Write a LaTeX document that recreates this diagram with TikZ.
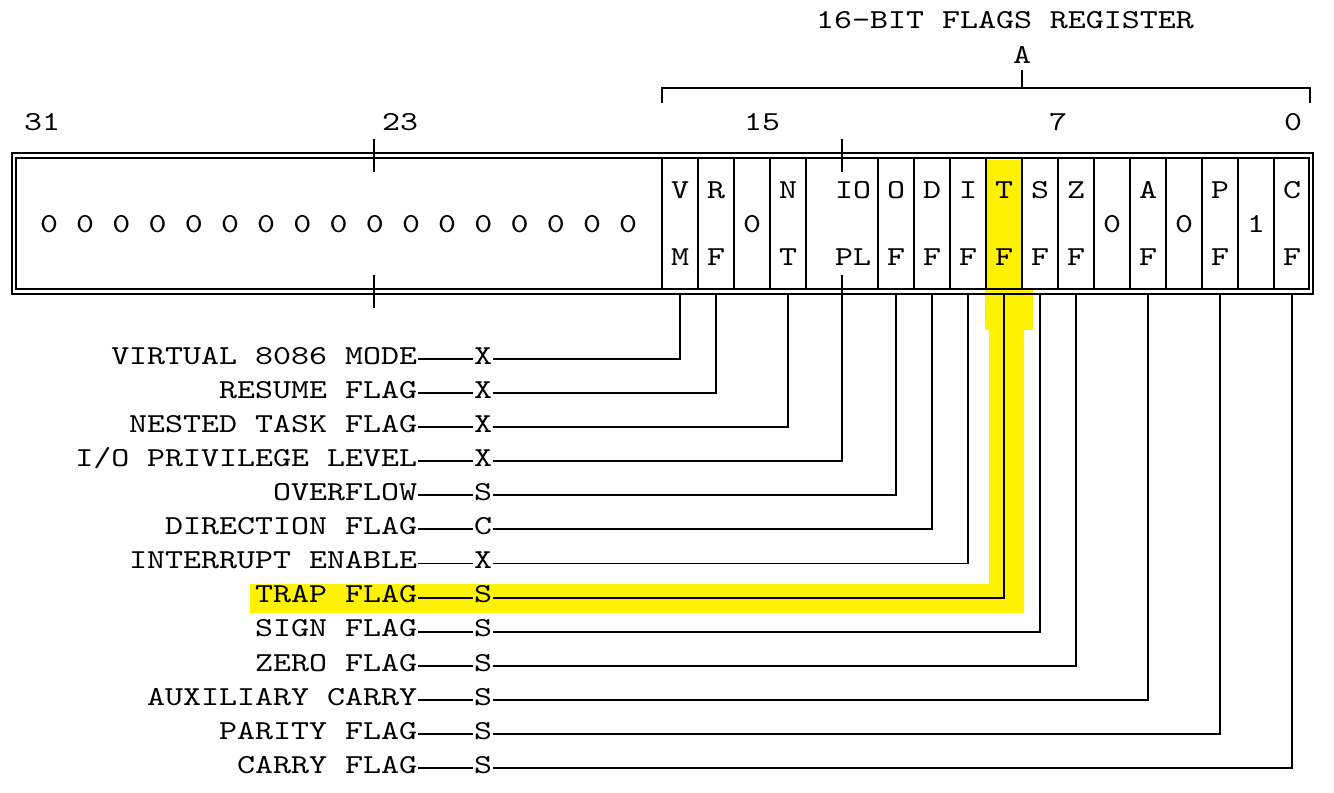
\documentclass[tikz,border=0pt]{standalone}
\usepackage{fontspec}
\newfontfamily\regfont{lmmono10-regular}[Extension=.otf,FakeStretch=1.25]
\begin{document}
\begin{tikzpicture}[x=0.02cm,y=-0.02cm,line width=1.1pt,font={\regfont\fontsize{15.6}{18}\selectfont},
	bit/.style={inner sep=0pt},
	lbl/.style={anchor=east,inner sep=0pt,text height=1.4ex,text depth=0pt},
	code/.style={inner sep=0pt,text height=1.4ex,text depth=0pt}]
	\useasboundingbox (0,0) rectangle (1334,793);
	% highlighter
	\fill[yellow] (986,160) rectangle (1022,290) (985,290) rectangle (1033,330) (989,330) rectangle (1024,613) (250,584) rectangle (1024,613);
	% frame and cells
	\draw (12,153) rectangle (1313,294);
	\draw (16,158) rectangle (1309,289);
	\foreach \k in {0,1,2,3,4,6,7,8,9,10,11,12,13,14,15,16,17}{\draw (662+36*\k,158) -- (662+36*\k,289);}
	\draw (374,139) -- (374,172) (374,275) -- (374,308) (842,139) -- (842,172) (842,275) -- (842,294);
	\foreach \i in {0,...,16}{\node[bit] (z\i) at (49+36.2*\i,224) {0};}
	\foreach \t/\b/\x in {V/M/680,R/F/716,N/T/788,IO/PL/853,O/F/896,D/F/932,I/F/968,T/F/1004,S/F/1040,Z/F/1076,A/F/1148,P/F/1220,C/F/1292}{
		\node[bit] (t\x) at (\x,190) {\t};
		\node[bit] (f\x) at (\x,257) {\b};}
	\foreach \v/\x in {0/752,0/1112,0/1184,1/1256}{\node[bit] (m\x) at (\x,224) {\v};}
	% bit numbers and register bracket
	\foreach \n/\x in {31/42,23/400,15/762,7/1058,0/1293}{\node (n\n) at (\x,122) {\n};}
	\node (title) at (1005,20) {16-BIT FLAGS REGISTER};
	\node (regA) at (1022,55) {A};
	\draw (662,103) -- (662,88) -- (1310,88) -- (1310,103) (1022,88) -- (1022,70);
	% flag names
	\foreach \name/\code/\x [count=\i from 0] in {VIRTUAL 8086 MODE/X/680,RESUME FLAG/X/716,NESTED TASK FLAG/X/788,{I/O PRIVILEGE LEVEL}/X/842,OVERFLOW/S/896,DIRECTION FLAG/C/932,INTERRUPT ENABLE/X/968,TRAP FLAG/S/1004,SIGN FLAG/S/1040,ZERO FLAG/S/1076,AUXILIARY CARRY/S/1148,PARITY FLAG/S/1220,CARRY FLAG/S/1292}{
		\node[lbl] (l\i) at (418,359+34.08*\i) {\name};
		\node[code] (c\i) at (483,359+34.08*\i) {\code};
		\coordinate (b\i) at (\x,294);
		\draw (l\i.east) -- (c\i.west) (c\i.east) -| (b\i);}
\end{tikzpicture}
\end{document}
